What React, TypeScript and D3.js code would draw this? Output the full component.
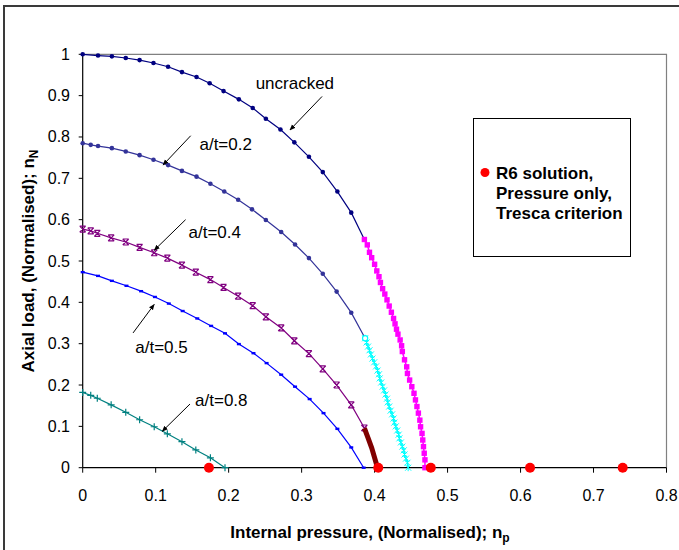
import React from "react";
import * as d3 from "d3";

// uncracked limit curve (n_p, n_N)
const uncracked: [number, number][] = [
  [0, 1.0], [0.021, 0.997], [0.04, 0.995], [0.059, 0.991], [0.078, 0.986],
  [0.097, 0.979], [0.117, 0.97], [0.136, 0.957], [0.156, 0.945], [0.174, 0.93],
  [0.193, 0.911], [0.214, 0.891], [0.233, 0.87], [0.251, 0.844], [0.271, 0.818],
  [0.29, 0.787], [0.31, 0.752], [0.329, 0.715], [0.349, 0.668], [0.368, 0.617],
  [0.386, 0.552],
];

// uncracked, pressure dominated branch
const uncrackedTail: [number, number][] = [
  [0.386, 0.552], [0.39, 0.539], [0.393, 0.521], [0.396, 0.508], [0.4, 0.492],
  [0.403, 0.476], [0.406, 0.462], [0.408, 0.448], [0.411, 0.433], [0.414, 0.42],
  [0.417, 0.406], [0.42, 0.391], [0.423, 0.376], [0.426, 0.361], [0.428, 0.348],
  [0.43, 0.335], [0.432, 0.323], [0.435, 0.309], [0.437, 0.295], [0.438, 0.281],
  [0.441, 0.261], [0.444, 0.244], [0.445, 0.228], [0.448, 0.212], [0.451, 0.196],
  [0.454, 0.18], [0.456, 0.164], [0.458, 0.148], [0.46, 0.132], [0.462, 0.115],
  [0.463, 0.099], [0.465, 0.083], [0.466, 0.067], [0.467, 0.051], [0.468, 0.035],
  [0.469, 0.019], [0.469, 0],
];

const crack02: [number, number][] = [
  [0, 0.785], [0.011, 0.781], [0.021, 0.778], [0.04, 0.773], [0.059, 0.765],
  [0.078, 0.756], [0.097, 0.745], [0.117, 0.732], [0.136, 0.718], [0.156, 0.704],
  [0.175, 0.687], [0.194, 0.668], [0.213, 0.648], [0.232, 0.625], [0.251, 0.599],
  [0.272, 0.57], [0.291, 0.54], [0.31, 0.507], [0.329, 0.469], [0.348, 0.426],
  [0.368, 0.375], [0.387, 0.313],
];

const crack02Tail: [number, number][] = [
  [0.387, 0.313], [0.389, 0.303], [0.391, 0.293], [0.393, 0.284], [0.395, 0.274],
  [0.397, 0.264], [0.3995, 0.255], [0.402, 0.245], [0.404, 0.235], [0.406, 0.226],
  [0.407, 0.216], [0.409, 0.206], [0.411, 0.196], [0.413, 0.187], [0.415, 0.177],
  [0.417, 0.167], [0.418, 0.158], [0.42, 0.148], [0.422, 0.138], [0.424, 0.129],
  [0.426, 0.119], [0.427, 0.109], [0.429, 0.1], [0.431, 0.09], [0.433, 0.08],
  [0.434, 0.071], [0.436, 0.061], [0.438, 0.051], [0.44, 0.042], [0.441, 0.032],
  [0.443, 0.022], [0.445, 0.012], [0.446, 0],
];

const crack04: [number, number][] = [
  [0, 0.577], [0.011, 0.573], [0.02, 0.567], [0.039, 0.556], [0.059, 0.546],
  [0.078, 0.533], [0.098, 0.52], [0.116, 0.507], [0.136, 0.49], [0.155, 0.473],
  [0.175, 0.455], [0.193, 0.436], [0.213, 0.415], [0.233, 0.392], [0.251, 0.365],
  [0.272, 0.338], [0.29, 0.307], [0.31, 0.276], [0.329, 0.239], [0.348, 0.2],
  [0.368, 0.152], [0.386, 0.096],
];

const crack04Tail: [number, number][] = [
  [0.386, 0.096], [0.391, 0.072], [0.396, 0.048], [0.4, 0.024], [0.404, 0],
];

const crack05: [number, number][] = [
  [0, 0.473], [0.021, 0.464], [0.04, 0.452], [0.06, 0.44], [0.08, 0.427],
  [0.099, 0.413], [0.118, 0.397], [0.137, 0.379], [0.157, 0.361], [0.176, 0.343],
  [0.195, 0.325], [0.214, 0.299], [0.234, 0.277], [0.252, 0.253], [0.272, 0.225],
  [0.291, 0.196], [0.311, 0.166], [0.33, 0.132], [0.349, 0.094], [0.368, 0.049],
  [0.385, 0],
];

const crack08: [number, number][] = [
  [0, 0.182], [0.011, 0.175], [0.02, 0.168], [0.039, 0.152], [0.059, 0.134],
  [0.078, 0.116], [0.098, 0.099], [0.116, 0.082], [0.136, 0.063], [0.155, 0.043],
  [0.175, 0.024], [0.195, 0],
];

// R6 solution, pressure only, Tresca criterion
const r6X = [0.173, 0.405, 0.477, 0.613, 0.74];

const xTicks = [0, 0.1, 0.2, 0.3, 0.4, 0.5, 0.6, 0.7, 0.8];
const yTicks = [0, 0.1, 0.2, 0.3, 0.4, 0.5, 0.6, 0.7, 0.8, 0.9, 1];

// annotation labels: text position and arrow (from -> to), in data units
const notes = [
  { text: "uncracked", tx: 0.237, ty: 0.916, from: [0.328, 0.898], to: [0.284, 0.817] },
  { text: "a/t=0.2", tx: 0.16, ty: 0.769, from: [0.148, 0.803], to: [0.11, 0.732] },
  { text: "a/t=0.4", tx: 0.145, ty: 0.556, from: [0.141, 0.6], to: [0.098, 0.526] },
  { text: "a/t=0.5", tx: 0.072, ty: 0.278, from: [0.069, 0.326], to: [0.098, 0.395] },
  { text: "a/t=0.8", tx: 0.154, ty: 0.149, from: [0.147, 0.154], to: [0.109, 0.088] },
];

const W = 679;
const H = 550;
const font = "'Liberation Sans', Arial, sans-serif";

const x = d3.scaleLinear().domain([0, 0.8]).range([82.7, 666.5]);
const y = d3.scaleLinear().domain([0, 1]).range([467.7, 54.3]);
const line = d3.line<[number, number]>().x((d) => x(d[0])).y((d) => y(d[1]));

const Marker = ({ kind, cx, cy, color }: { kind: string; cx: number; cy: number; color: string }) => {
  const t = `translate(${cx},${cy})`;
  if (kind === "dot") return <circle cx={cx} cy={cy} r={2.3} fill={color} />;
  if (kind === "hour")
    return (
      <path transform={t} d="M-3,-3L3,3M-3,3L3,-3M-3,-3H3M-3,3H3" stroke={color} strokeWidth={1.2} fill="none" />
    );
  if (kind === "dash") return <rect x={cx - 2} y={cy - 1.2} width={4} height={2.4} fill={color} />;
  if (kind === "plus")
    return <path transform={t} d="M-3.5,0H3.5M0,-3.5V3.5" stroke={color} strokeWidth={1.2} fill="none" />;
  if (kind === "square") return <rect x={cx - 2.7} y={cy - 2.7} width={5.4} height={5.4} fill={color} />;
  if (kind === "star")
    return (
      <path transform={t} d="M-3,-3L3,3M-3,3L3,-3M0,-3.5V3.5" stroke={color} strokeWidth={1} fill="none" />
    );
  return null;
};

const seriesList = [
  { data: uncracked, color: "#000080", marker: "dot", width: 1.2 },
  { data: crack02, color: "#333399", marker: "dot", width: 1.2 },
  { data: crack04, color: "#800080", marker: "hour", width: 1.2 },
  { data: crack05, color: "#0000FF", marker: "dash", width: 1.2 },
  { data: crack08, color: "#008080", marker: "plus", width: 1.2 },
  { data: crack02Tail, color: "#00FFFF", marker: "star", width: 1 },
  { data: uncrackedTail, color: "#FF00FF", marker: "square", width: 1.5 },
  { data: crack04Tail, color: "#800000", marker: "none", width: 5 },
];

export default function App() {
  return (
    <svg
      width={W}
      height={H}
      style={{ position: "absolute", left: 0, top: 0, background: "#fff" }}
      fontFamily={font}
    >
      <defs>
        <marker id="arr" viewBox="0 0 10 10" refX="9" refY="5" markerWidth="6" markerHeight="6" orient="auto">
          <path d="M0,1L10,5L0,9z" fill="#000" />
        </marker>
      </defs>
      {/* chart frame */}
      <path d={`M4,${H + 5}V6H${W + 5}`} fill="none" stroke="#3a3a3a" strokeWidth={2} />

      {/* plot area border */}
      <path d={`M${x(0)},${y(1)}H${x(0.8)}V${y(0)}`} fill="none" stroke="#808080" strokeWidth={1.2} />

      {/* axes */}
      <line x1={x(0)} x2={x(0.8)} y1={y(0)} y2={y(0)} stroke="#000" strokeWidth={1.2} />
      <line x1={x(0)} x2={x(0)} y1={y(0)} y2={y(1)} stroke="#000" strokeWidth={1.2} />
      {xTicks.map((t) => (
        <g key={"xt" + t}>
          <line x1={x(t)} x2={x(t)} y1={y(0)} y2={y(0) + 5} stroke="#000" />
          <text x={x(t)} y={501} textAnchor="middle" fontSize={16}>
            {t}
          </text>
        </g>
      ))}
      {yTicks.map((t) => (
        <g key={"yt" + t}>
          <line x1={x(0) - 4} x2={x(0)} y1={y(t)} y2={y(t)} stroke="#000" />
          <text x={70} y={y(t) + 5.5} textAnchor="end" fontSize={16}>
            {t}
          </text>
        </g>
      ))}

      {/* series */}
      {seriesList.map((s, i) => (
        <g key={"s" + i}>
          <path d={line(s.data) || ""} fill="none" stroke={s.color} strokeWidth={s.width} />
          {s.data.map((d, j) => (
            <Marker key={j} kind={s.marker} cx={x(d[0])} cy={y(d[1])} color={s.color} />
          ))}
        </g>
      ))}
      <circle cx={x(crack02Tail[0][0])} cy={y(crack02Tail[0][1])} r={2.6} fill="#fff" stroke="#00FFFF" strokeWidth={1.2} />

      {/* R6 points */}
      {r6X.map((v, i) => (
        <circle key={"r6" + i} cx={x(v)} cy={y(0)} r={5} fill="#FF0000" />
      ))}

      {/* annotations */}
      {notes.map((n, i) => (
        <g key={"n" + i}>
          <text x={x(n.tx)} y={y(n.ty)} fontSize={17}>
            {n.text}
          </text>
          <line
            x1={x(n.from[0])}
            y1={y(n.from[1])}
            x2={x(n.to[0])}
            y2={y(n.to[1])}
            stroke="#000"
            strokeWidth={1}
            markerEnd="url(#arr)"
          />
        </g>
      ))}

      {/* legend */}
      <rect x={473.5} y={118.5} width={157} height={138} fill="#fff" stroke="#000" strokeWidth={1} />
      <circle cx={485} cy={172.5} r={4.5} fill="#FF0000" />
      <g fontSize={17} fontWeight="bold">
        <text x={496} y={179}>R6 solution,</text>
        <text x={496} y={199}>Pressure only,</text>
        <text x={496} y={219}>Tresca criterion</text>
      </g>

      {/* axis titles */}
      <text x={370} y={538} textAnchor="middle" fontSize={17} fontWeight="bold">
        Internal pressure, (Normalised); n<tspan fontSize={12} dy={4}>p</tspan>
      </text>
      <text
        transform={`translate(34,${(y(0) + y(1)) / 2}) rotate(-90)`}
        textAnchor="middle"
        fontSize={17}
        fontWeight="bold"
      >
        Axial load, (Normalised); n<tspan fontSize={12} dy={4}>N</tspan>
      </text>
    </svg>
  );
}
